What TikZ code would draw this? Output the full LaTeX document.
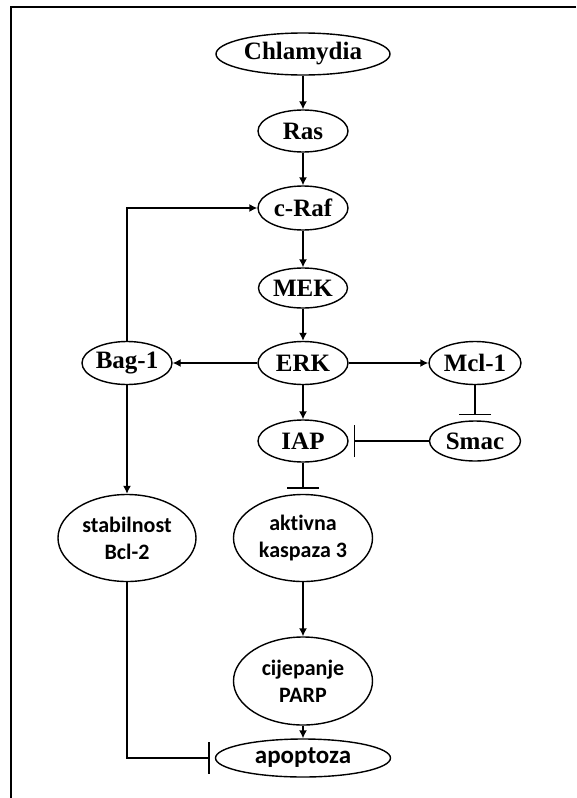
\documentclass[tikz,border=0pt]{standalone}
\usepackage{fontspec}
\setmainfont{Liberation Serif}
\newfontfamily\calib[Ligatures={NoCommon}]{Carlito}
\usetikzlibrary{shapes.geometric,arrows.meta}
\begin{document}
\begin{tikzpicture}[x=1pt,y=-1pt,
  nd/.style={ellipse,draw,line width=1.4pt,inner sep=0pt,font=\bfseries\fontsize{25}{28}\selectfont},
  sn/.style={ellipse,draw,line width=1.4pt,inner sep=0pt,align=center,font=\calib\bfseries\fontsize{22}{27}\selectfont},
  act/.style={line width=1.4pt,-{Latex[length=8pt,width=8pt]}},
  inh/.style={line width=1.4pt,-{Bar[width=32pt,line width=1.4pt]},shorten >=5pt},
  frame/.style={line width=2pt}
]
\useasboundingbox (0,0) rectangle (576,798);
\fill[white] (0,0) rectangle (576,798);
\draw[frame] (576,7) -- (11,7) -- (11,798);

\node[nd,minimum width=174pt,minimum height=42pt] (chl) at (303,54) {Chlamydia};
\node[nd,minimum width=90pt,minimum height=42pt] (ras) at (303,131) {Ras};
\node[nd,minimum width=90pt,minimum height=44pt] (craf) at (303,208) {c-Raf};
\node[nd,minimum width=89pt,minimum height=40pt] (mek) at (303,288) {MEK};
\node[nd,minimum width=90pt,minimum height=43pt] (erk) at (303,363) {ERK};
\node[nd,minimum width=90pt,minimum height=43pt] (bag) at (127,363) {Bag-1};
\node[nd,minimum width=92pt,minimum height=43pt] (mcl) at (475,363) {Mcl-1};
\node[nd,minimum width=90pt,minimum height=42pt] (iap) at (303,441) {IAP};
\node[nd,minimum width=91pt,minimum height=40pt] (smac) at (475,441) {Smac};
\node[sn,minimum width=138pt,minimum height=87pt] (stab) at (127,538) {stabilnost\\Bcl-2};
\node[sn,minimum width=139pt,minimum height=87pt] (akt) at (303,538) {aktivna\\kaspaza 3};
\node[sn,minimum width=139pt,minimum height=88pt] (parp) at (303,681) {cijepanje\\PARP};
\node[sn,minimum width=175pt,minimum height=38pt,font=\calib\bfseries\fontsize{25}{28}\selectfont] (apop) at (303,758) {apoptoza};

\draw[act] (chl) -- (ras);
\draw[act] (ras) -- (craf);
\draw[act] (craf) -- (mek);
\draw[act] (mek) -- (erk);
\draw[act] (erk) -- (iap);
\draw[act] (erk) -- (bag);
\draw[act] (erk) -- (mcl);
\draw[act] (bag.north) |- (craf.west);
\draw[act] (bag) -- (stab);
\draw[inh] (mcl) -- (smac);
\draw[inh] (smac) -- (iap);
\draw[inh] (iap) -- (akt);
\draw[act] (akt) -- (parp);
\draw[act] (parp) -- (apop);
\draw[inh] (stab.south) |- (apop.west);
\end{tikzpicture}
\end{document}
